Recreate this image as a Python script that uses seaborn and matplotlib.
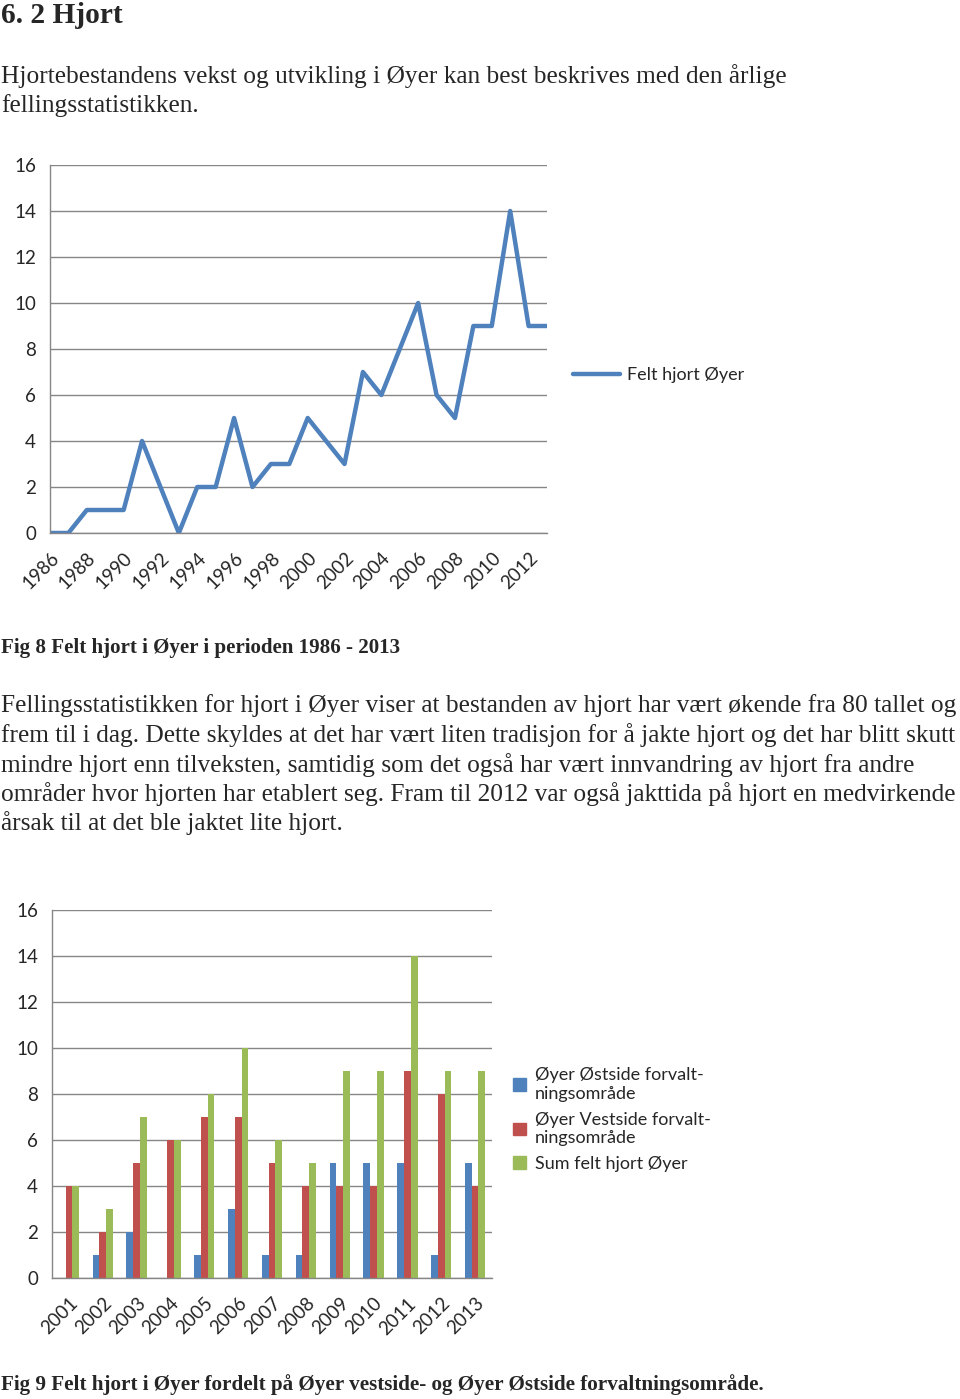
import numpy as np
import matplotlib
matplotlib.use("Agg")
import matplotlib.pyplot as plt
import matplotlib.patches as mpatches
import pandas as pd
import seaborn as sns

# data
years = list(range(1986, 2014))
felt_total = [0, 0, 1, 1, 1, 4, 2, 0, 2, 2, 5, 2, 3, 3, 5, 4, 3, 7, 6, 8, 10, 6, 5, 9, 9, 14, 9, 9]

bar_years = ["2001", "2002", "2003", "2004", "2005", "2006", "2007",
             "2008", "2009", "2010", "2011", "2012", "2013"]
ostside = [0, 1, 2, 0, 1, 3, 1, 1, 5, 5, 5, 1, 5]
vestside = [4, 2, 5, 6, 7, 7, 5, 4, 4, 4, 9, 8, 4]
sum_felt = [4, 3, 7, 6, 8, 10, 6, 5, 9, 9, 14, 9, 9]
series_names = ["Øyer Østside forvalt-\nningsområde",
                "Øyer Vestside forvalt-\nningsområde",
                "Sum felt hjort Øyer"]
colors = ["#4F81BD", "#C0504D", "#9BBB59"]

title_txt = "6. 2 Hjort"
intro_lines = ["Hjortebestandens vekst og utvikling i Øyer kan best beskrives med den årlige",
               "fellingsstatistikken."]
cap8 = "Fig 8 Felt hjort i Øyer i perioden 1986 - 2013"
body_lines = ["Fellingsstatistikken for hjort i Øyer viser at bestanden av hjort har vært økende fra 80 tallet og",
              "frem til i dag. Dette skyldes at det har vært liten tradisjon for å jakte hjort og det har blitt skutt",
              "mindre hjort enn tilveksten, samtidig som det også har vært innvandring av hjort fra andre",
              "områder hvor hjorten har etablert seg. Fram til 2012 var også jakttida på hjort en medvirkende",
              "årsak til at det ble jaktet lite hjort."]
cap9 = "Fig 9 Felt hjort i Øyer fordelt på Øyer vestside- og Øyer Østside forvaltningsområde."

sns.set_style("white")
plt.rcParams["font.family"] = ["Lato", "DejaVu Sans"]

W, H = 960, 1399
fig = plt.figure(figsize=(W / 100, H / 100), dpi=100)
renderer = fig.canvas.get_renderer()
GRID = "#868686"
TICK_SIZE = 13.5


def fy(py):
    return 1 - py / H


# write a block of lines, sized so the widest one spans target px
def text_block(lines, baselines, target, bold=False):
    objs = []
    for s, b in zip(lines, baselines):
        t = fig.text(0.001, fy(b), s, family="Liberation Serif", fontsize=16,
                     fontweight="bold" if bold else "normal", va="baseline", ha="left")
        objs.append(t)
    w = max(t.get_window_extent(renderer).width for t in objs)
    size = 16 * target / w
    for t in objs:
        t.set_fontsize(size)


text_block([title_txt], [23], 122, bold=True)
text_block(intro_lines, [83, 112], 786)
text_block([cap8], [653], 403, bold=True)
text_block(body_lines, [712, 742, 772, 801, 830], 956)
text_block([cap9], [1390], 766, bold=True)


def style_axis(ax):
    ax.set_ylim(0, 16)
    ax.set_yticks(range(0, 17, 2))
    ax.yaxis.grid(True, color=GRID, linewidth=1.0)
    ax.xaxis.grid(False)
    for side in ["top", "right"]:
        ax.spines[side].set_visible(False)
    for side in ["left", "bottom"]:
        ax.spines[side].set_color(GRID)
        ax.spines[side].set_linewidth(1.0)
    ax.tick_params(axis="y", length=4, color=GRID, width=1.0, pad=6, labelsize=TICK_SIZE)
    ax.set_xlabel("")
    ax.set_ylabel("")


# Fig 8 - line chart
ax1 = fig.add_axes([50 / W, fy(533), 497 / W, (533 - 165) / H])
sns.lineplot(x=years, y=felt_total, ax=ax1, color=colors[0], linewidth=3.2,
             label="Felt hjort Øyer")
style_axis(ax1)
ax1.set_xlim(1986, 2013)
ax1.set_xticks(years)
ax1.set_xticklabels([str(y) if y % 2 == 0 else "" for y in years])
ax1.tick_params(axis="x", length=6, color=GRID, width=1.0, pad=6, labelsize=TICK_SIZE,
                labelrotation=45)
for lab in ax1.get_xticklabels():
    lab.set_ha("right")
    lab.set_rotation_mode("anchor")
ax1.legend(loc="center left", bbox_to_anchor=(557 / W, fy(375)),
           bbox_transform=fig.transFigure, frameon=False, fontsize=13,
           handlelength=2.6, handletextpad=0.35)

# Fig 9 - grouped bars
df = pd.DataFrame({
    "year": bar_years * 3,
    "felt": ostside + vestside + sum_felt,
    "serie": [series_names[0]] * 13 + [series_names[1]] * 13 + [series_names[2]] * 13,
})
ax2 = fig.add_axes([52 / W, fy(1278), 440 / W, (1278 - 910) / H])
sns.barplot(data=df, x="year", y="felt", hue="serie", palette=colors, ax=ax2,
            width=0.6, saturation=1, linewidth=0)
style_axis(ax2)
ax2.set_xlim(-0.5, 12.5)
ax2.set_xticks(np.arange(-0.5, 13, 1), minor=True)
ax2.tick_params(axis="x", which="minor", length=6, color=GRID, width=1.0)
ax2.tick_params(axis="x", which="major", length=0, pad=12, labelsize=TICK_SIZE,
                labelrotation=45)
for lab in ax2.get_xticklabels():
    lab.set_ha("right")
    lab.set_rotation_mode("anchor")
handles = [mpatches.Patch(color=c) for c in colors]
ax2.legend(handles, series_names, loc="upper left", bbox_to_anchor=(504 / W, fy(1058)),
           bbox_transform=fig.transFigure, frameon=False, fontsize=13,
           handlelength=0.7, handleheight=0.7, handletextpad=0.5,
           labelspacing=0.55, borderpad=0)

fig.savefig("out.png", dpi=100)
